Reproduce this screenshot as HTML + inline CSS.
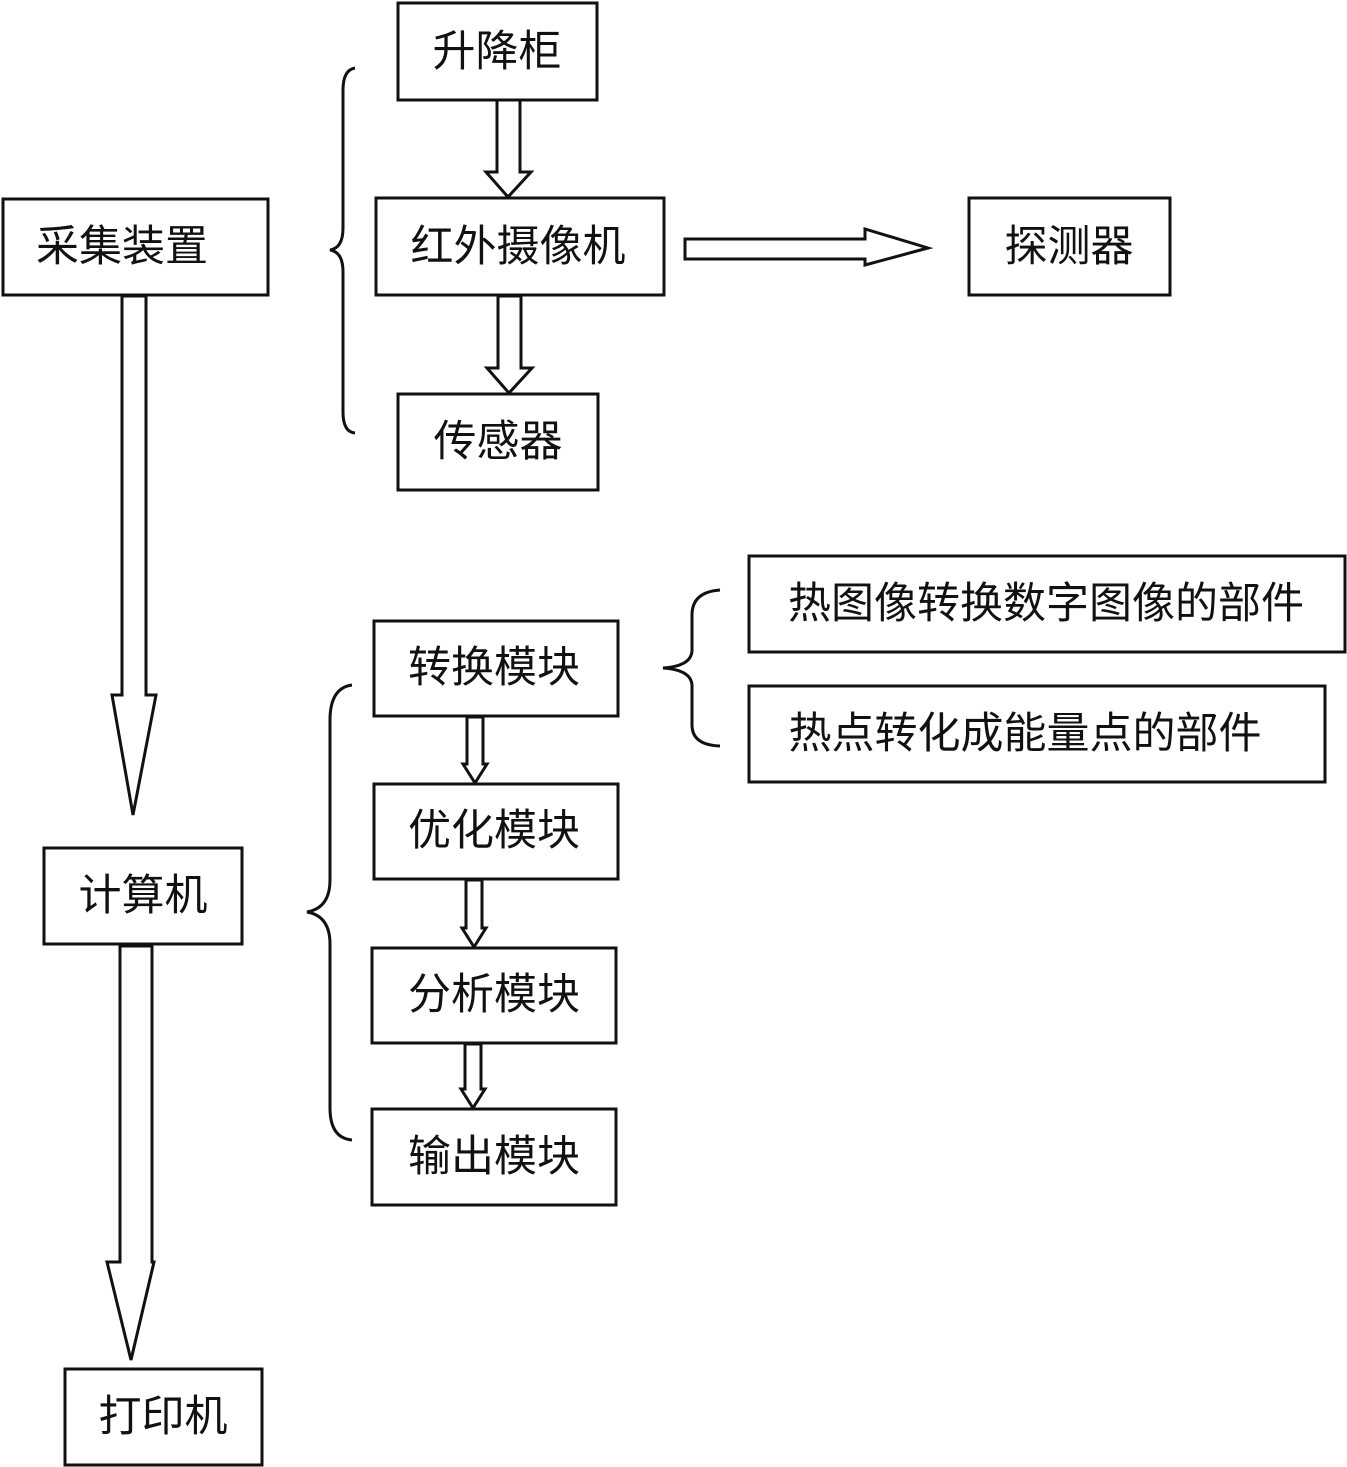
<!DOCTYPE html>
<html><head><meta charset="utf-8"><style>
html,body{margin:0;padding:0;background:#fff;}
svg{display:block}
text{font-family:"Liberation Sans","Noto Sans CJK SC",sans-serif;font-size:43px;fill:#111;text-anchor:middle;dominant-baseline:central}
</style></head><body>
<svg width="1347" height="1467" viewBox="0 0 1347 1467" xmlns="http://www.w3.org/2000/svg">
<g fill="#fff" stroke="#111" stroke-width="3">
<rect x="398" y="3" width="199" height="97"/>
<rect x="3" y="199" width="265" height="96"/>
<rect x="376" y="198" width="288" height="97"/>
<rect x="969" y="198" width="201" height="97"/>
<rect x="398" y="394" width="200" height="96"/>
<rect x="749" y="556" width="596" height="96"/>
<rect x="374" y="621" width="244" height="95"/>
<rect x="749" y="686" width="576" height="96"/>
<rect x="374" y="784" width="244" height="95"/>
<rect x="44" y="848" width="198" height="96"/>
<rect x="372" y="948" width="244" height="95"/>
<rect x="372" y="1109" width="244" height="96"/>
<rect x="65" y="1369" width="197" height="96"/>
</g>
<g>
<text x="497" y="52">升降柜</text>
<text x="122" y="247">采集装置</text>
<text x="518" y="247">红外摄像机</text>
<text x="1069" y="247">探测器</text>
<text x="498" y="442">传感器</text>
<text x="1046" y="604">热图像转换数字图像的部件</text>
<text x="494" y="668">转换模块</text>
<text x="1025" y="734">热点转化成能量点的部件</text>
<text x="494" y="831">优化模块</text>
<text x="143" y="896">计算机</text>
<text x="494" y="995">分析模块</text>
<text x="494" y="1157">输出模块</text>
<text x="163" y="1417">打印机</text>
</g>
<g fill="#fff" stroke="#111" stroke-width="3" stroke-linejoin="miter">
<polygon points="122,296 146,296 146,695 156,695 133,815 112,695 122,695"/>
<polygon points="120,946 152,946 152,1262 154,1262 131,1360 107,1262 120,1262"/>
<polygon points="497,100 520,100 520,172 531,172 508,197 486,172 497,172"/>
<polygon points="498,296 521,296 521,368 532,368 509,393 487,368 498,368"/>
<polygon points="685,239 865,239 865,229 928,248 865,265 865,259 685,259"/>
<polygon points="467,717 483,717 483,764 487,764 475,783 463,764 467,764"/>
<polygon points="466,880 482,880 482,928 486,928 474,947 462,928 466,928"/>
<polygon points="465,1044 481,1044 481,1089 485,1089 473,1108 461,1089 465,1089"/>
</g>
<g fill="none" stroke="#111" stroke-width="3">
<path d="M355,68 Q343,70 343,90 L343,228 Q343,248 330,250 Q343,252 343,272 L343,412 Q343,432 355,433"/>
<path d="M352,685 Q330,688 330,720 L330,880 Q330,908 307,912 Q330,916 330,944 L330,1108 Q330,1138 352,1140"/>
<path d="M720,590 Q692,592 692,615 L692,650 Q692,666 663,668 Q692,670 692,686 L692,725 Q692,745 720,746"/>
</g>
</svg>
</body></html>
